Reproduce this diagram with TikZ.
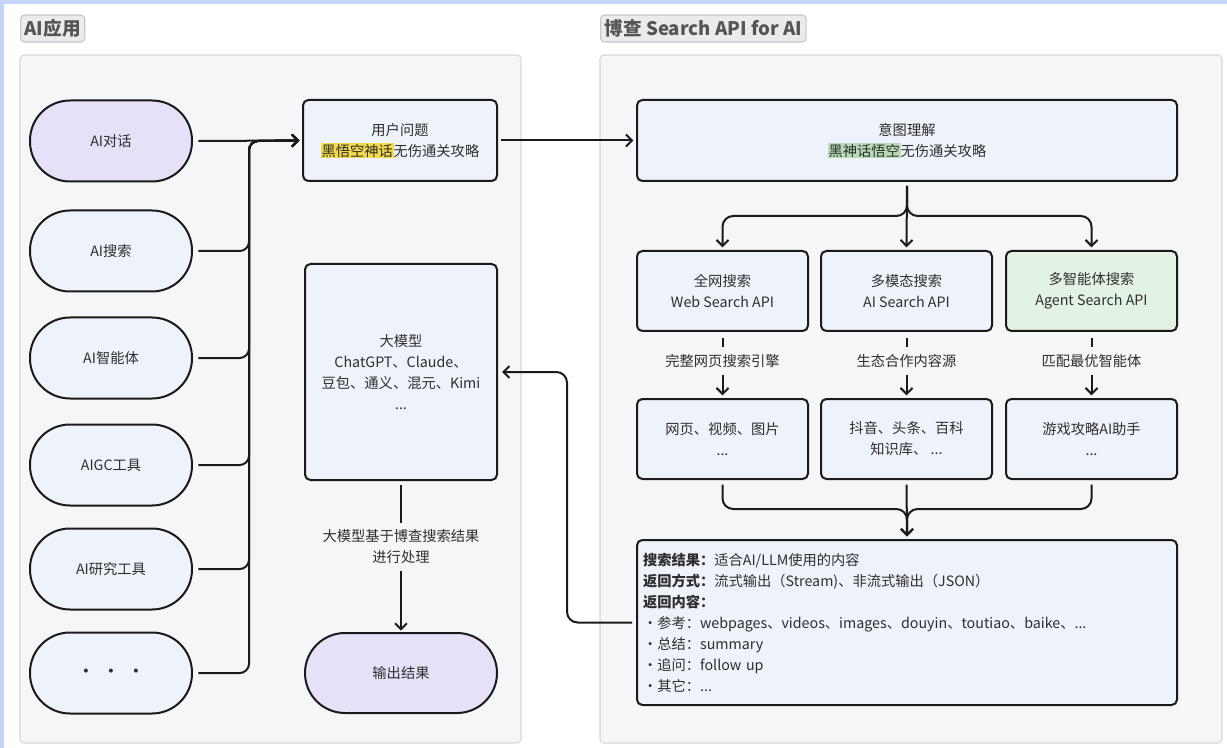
\documentclass[tikz,border=0pt]{standalone}
\usepackage{fontspec}
\setmainfont{Noto Sans CJK SC}
\usetikzlibrary{arrows.meta}
\definecolor{txt}{HTML}{2E2E2E}
\definecolor{ttl}{HTML}{555555}
\definecolor{boxline}{HTML}{1A1A1A}
\definecolor{boxfill}{HTML}{EEF2FB}
\definecolor{lav}{HTML}{E6E0F8}
\definecolor{agent}{HTML}{E3F3E3}
\definecolor{panelfill}{HTML}{F5F6F8}
\definecolor{panelline}{HTML}{D6D7DA}
\definecolor{titlefill}{HTML}{EAEBED}
\definecolor{titleline}{HTML}{C6C7CA}
\definecolor{hly}{HTML}{F2DA4B}
\definecolor{hlg}{HTML}{B8DCB8}
\definecolor{frameblue}{HTML}{C5D5FA}
\newcommand\myfs{\fontsize{10.7}{15.75}\selectfont}
\newcommand\hlyel[1]{{\setlength\fboxsep{0.6pt}\colorbox{hly}{#1}}}
\newcommand\hlgrn[1]{{\setlength\fboxsep{0.6pt}\colorbox{hlg}{#1}}}
\begin{document}
\begin{tikzpicture}[x=0.75pt,y=-0.75pt,
  box/.style={draw=boxline, line width=1.5pt, fill=boxfill, rounded corners=4pt,
    inner sep=0pt, align=center, text=txt, font=\myfs},
  stad/.style={box, rounded corners=30pt},
  titlebox/.style={draw=titleline, line width=0.8pt, fill=titlefill, rounded corners=3pt,
    inner xsep=3pt, inner ysep=0pt, minimum height=20.25pt, text=ttl,
    font=\fontsize{14}{16}\selectfont\bfseries},
  panel/.style={draw=panelline, line width=0.8pt, fill=panelfill, rounded corners=3pt},
  conn/.style={draw=boxline, line width=1.5pt},
  arr/.style={conn, -{Straight Barb[length=4.5pt,width=9pt,line width=1.5pt]}},
  lbl/.style={inner xsep=2pt, inner ysep=5pt, align=center, text=txt, font=\myfs}
]
\useasboundingbox (0,0) rectangle (1227,748);
\fill[white] (0,0) rectangle (1227,748);
\fill[frameblue] (0,0) rectangle (1227,4);
\fill[frameblue] (0,0) rectangle (4,748);

% panels
\draw[panel] (20,55) rectangle (521,743);
\draw[panel] (600,55) rectangle (1222,743);
\node[titlebox, anchor=west] (t1) at (20,28.5) {AI应用};
\node[titlebox, anchor=west] (t2) at (600,28.5) {博查 Search API for AI};

% left column
\node[stad, fill=lav, minimum width=121.5pt, minimum height=60.75pt] (a1) at (111,141) {AI对话};
\node[stad, minimum width=121.5pt, minimum height=60.75pt] (a2) at (111,251) {AI搜索};
\node[stad, minimum width=121.5pt, minimum height=60.75pt] (a3) at (111,358) {AI智能体};
\node[stad, minimum width=121.5pt, minimum height=60.75pt] (a4) at (111,465) {AIGC工具};
\node[stad, minimum width=121.5pt, minimum height=60.75pt] (a5) at (111,569) {AI研究工具};
\node[stad, minimum width=121.5pt, minimum height=60.75pt] (a6) at (111,673) {\textbf{·}\hspace{8pt}\textbf{·}\hspace{8pt}\textbf{·}};

% middle column
\node[box, minimum width=145.5pt, minimum height=60.75pt] (u) at (400,140.5)
  {用户问题\\\hlyel{黑悟空神话}无伤通关攻略};
\node[box, minimum width=144pt, minimum height=162pt] (llm) at (401,372)
  {大模型\\ChatGPT、Claude、\\豆包、通义、混元、Kimi\\...};
\node[stad, fill=lav, minimum width=144pt, minimum height=60pt] (out) at (401,673) {输出结果};
\node[lbl] (llml) at (401,547) {大模型基于博查搜索结果\\进行处理};

% right column
\node[box, minimum width=405pt, minimum height=60.75pt] (i) at (907,140.5)
  {意图理解\\\hlgrn{黑神话悟空}无伤通关攻略};
\node[box, minimum width=128.25pt, minimum height=60pt] (s1) at (722.5,291) {全网搜索\\Web Search API};
\node[box, minimum width=128.25pt, minimum height=60pt] (s2) at (906.5,291) {多模态搜索\\AI Search API};
\node[box, fill=agent, minimum width=128.25pt, minimum height=60pt] (s3) at (1091.5,291) {多智能体搜索\\Agent Search API};
\node[lbl] (l1) at (722.5,361) {完整网页搜索引擎};
\node[lbl] (l2) at (906.5,361) {生态合作内容源};
\node[lbl] (l3) at (1091.5,361) {匹配最优智能体};
\node[box, minimum width=128.25pt, minimum height=60pt] (r1) at (722.5,439) {网页、视频、图片\\...};
\node[box, minimum width=128.25pt, minimum height=60pt] (r2) at (906.5,439) {抖音、头条、百科\\知识库、 ...};
\node[box, minimum width=128.25pt, minimum height=60pt] (r3) at (1091.5,439) {游戏攻略AI助手\\...};
\node[box, align=left, text width=396pt, inner xsep=4.5pt, minimum height=123.75pt] (res) at (907,622.5)
  {\textbf{搜索结果：}适合AI/LLM使用的内容\\
   \textbf{返回方式：}流式输出（Stream)、非流式输出（JSON）\\
   \textbf{返回内容：}\\
   ・参考：webpages、videos、images、douyin、toutiao、baike、...\\
   ・总结：summary\\
   ・追问：follow up\\
   ・其它：...};

% coordinates
\coordinate (bus) at (249,141);
\coordinate (sp) at (907,216);
\coordinate (mg) at (907,509);
\coordinate (fbx) at (567,372);

% left connectors
\draw[arr, shorten <=4pt, shorten >=2pt] (a1.east) -- (u.west);
\foreach \n in {a2,a3,a4,a5,a6}
  \draw[arr, rounded corners=7pt, shorten <=4pt, shorten >=2pt] (\n.east) -| (bus) -- (u.west);

% user -> intent
\draw[arr, shorten <=2pt, shorten >=2pt] (u.east) -- (i.west);

% split
\draw[arr, shorten <=3pt, shorten >=2pt] (i.south) -- (s2.north);
\draw[arr, rounded corners=8pt, shorten <=3pt, shorten >=2pt] (i.south) -- (sp) -| (s1.north);
\draw[arr, rounded corners=8pt, shorten <=3pt, shorten >=2pt] (i.south) -- (sp) -| (s3.north);

% search -> labels -> results
\foreach \a/\b/\c in {s1/l1/r1, s2/l2/r2, s3/l3/r3}{
  \draw[conn, shorten <=4.5pt] (\a.south) -- (\b.north);
  \draw[arr, shorten >=2pt] (\b.south) -- (\c.north);
}

% merge
\draw[arr, rounded corners=8pt, shorten <=3.5pt, shorten >=2pt] (r1.south) |- (mg) -- (res.north);
\draw[arr, rounded corners=8pt, shorten <=3.5pt, shorten >=2pt] (r3.south) |- (mg) -- (res.north);
\draw[arr, shorten <=3.5pt, shorten >=2pt] (r2.south) -- (res.north);

% feedback
\draw[arr, rounded corners=8pt, shorten <=3pt, shorten >=3pt] (res.west) -| (fbx) -- (llm.east);

% llm -> output
\draw[conn, shorten <=3pt] (llm.south) -- (llml.north);
\draw[arr, shorten >=1pt] (llml.south) -- (out.north);
\end{tikzpicture}
\end{document}
